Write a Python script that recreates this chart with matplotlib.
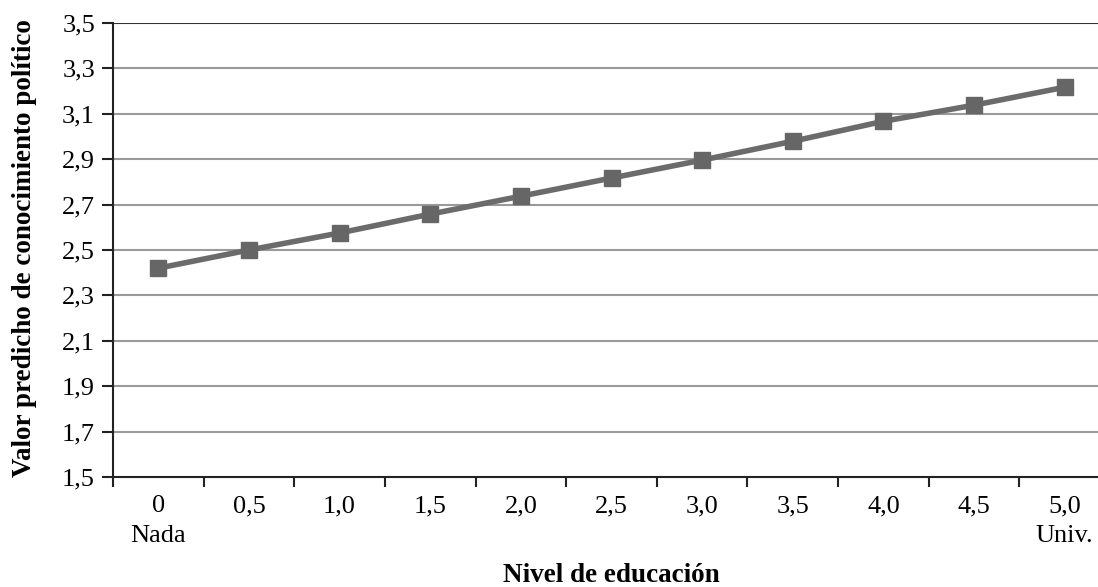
import numpy as np
import matplotlib.pyplot as plt

# Data
niveles = ['0\nNada', '0,5', '1,0', '1,5', '2,0', '2,5', '3,0', '3,5', '4,0', '4,5', '5,0\nUniv.']
valores = [2.42, 2.50, 2.575, 2.658, 2.737, 2.817, 2.896, 2.979, 3.067, 3.138, 3.217]
yticks = [1.5, 1.7, 1.9, 2.1, 2.3, 2.5, 2.7, 2.9, 3.1, 3.3, 3.5]

plt.rcParams['font.family'] = ['Liberation Serif', 'DejaVu Serif']

fig = plt.figure(figsize=(10.98, 5.87), dpi=100)
# axes run a little past the right edge, as in the source
ax = fig.add_axes([113 / 1098, 1 - 477 / 587, 997 / 1098, 454 / 587])

x = np.arange(len(valores))
ax.plot(x, valores, color='#6b6b6b', linewidth=4, marker='s', markersize=11,
        markerfacecolor='#666666', markeredgecolor='#666666', zorder=3)

ax.set_xlim(-0.5, len(valores) - 0.5)
ax.set_ylim(1.5, 3.5)
ax.set_yticks(yticks)
ax.set_yticklabels([f'{v:.1f}'.replace('.', ',') for v in yticks], fontsize=19)

# category labels centered, ticks between categories
ax.set_xticks(x)
ax.set_xticklabels(niveles, fontsize=19, linespacing=1.45, va='top')
ax.set_xticks(np.arange(-0.5, len(valores), 1), minor=True)
ax.tick_params(axis='x', which='major', length=0, pad=13)
ax.tick_params(axis='x', which='minor', length=7, width=1.5, direction='out', color='#222222')
ax.tick_params(axis='y', length=8, width=1.5, color='#222222', pad=5)

for v in yticks[1:-1]:
    ax.axhline(v, color='#9a9a9a', linewidth=1.5, zorder=1)
ax.axhline(3.5, color='#333333', linewidth=1.5, zorder=1)

ax.spines['top'].set_visible(False)
ax.spines['right'].set_visible(False)
ax.spines['left'].set_linewidth(1.5)
ax.spines['bottom'].set_linewidth(1.5)
ax.spines['left'].set_color('#222222')
ax.spines['bottom'].set_color('#222222')

fig.text(25 / 1098, 1 - 248 / 587, 'Valor predicho de conocimiento político', rotation=90,
         ha='center', va='center', fontsize=19.5, fontweight='bold')
fig.text(611 / 1098, 1 - 576 / 587, 'Nivel de educación', ha='center', va='center',
         fontsize=19.5, fontweight='bold')

fig.savefig('out.png', dpi=100)
